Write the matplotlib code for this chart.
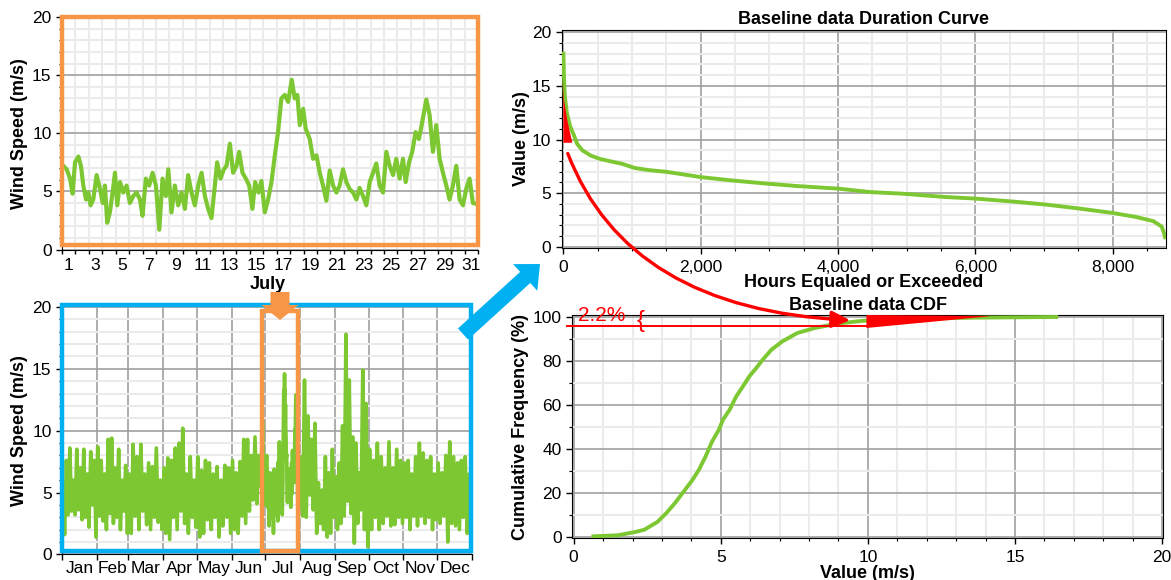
import numpy as np
import matplotlib
matplotlib.use("Agg")
import matplotlib.pyplot as plt
from matplotlib.patches import Rectangle, FancyArrow, FancyArrowPatch
from matplotlib.path import Path
from matplotlib.ticker import MultipleLocator, NullFormatter, StrMethodFormatter

plt.rcParams['font.family'] = ['Liberation Sans', 'DejaVu Sans']

GREEN = '#7DC832'
ORANGE = '#F79646'
BLUE = '#00B0F0'
RED = '#FF0000'
GRID_MAJ = '#A0A0A0'
GRID_MIN = '#EBEBEB'

# July wind speed (day of month, m/s)
july_day = [0.10, 0.35, 0.60, 0.79, 0.97, 1.22, 1.41, 1.59, 1.79, 1.96, 2.13, 2.33, 2.58, 2.83,
            3.03, 3.20, 3.37, 3.57, 3.77, 3.95, 4.12, 4.32, 4.57, 4.81, 5.06, 5.31, 5.56, 5.81,
            6.00, 6.25, 6.50, 6.75, 7.00, 7.25, 7.49, 7.74, 7.92, 8.16, 8.41, 8.66, 8.91, 9.16,
            9.40, 9.65, 9.90, 10.15, 10.40, 10.65, 10.89, 11.14, 11.39, 11.56, 11.81, 12.06,
            12.26, 12.51, 12.75, 13.00, 13.20, 13.45, 13.70, 13.95, 14.19, 14.39, 14.64, 14.86,
            15.11, 15.36, 15.61, 15.86, 16.10, 16.35, 16.60, 16.85, 17.12, 17.34, 17.54, 17.72,
            17.97, 18.16, 18.46, 18.71, 18.96, 19.21, 19.45, 19.70, 19.95, 20.20, 20.45, 20.69,
            20.94, 21.19, 21.44, 21.69, 21.94, 22.18, 22.43, 22.68, 22.93, 23.18, 23.42, 23.67,
            23.92, 24.17, 24.42, 24.67, 24.91, 25.16, 25.41, 25.61, 25.86, 26.10, 26.35, 26.60,
            26.85, 27.15, 27.39, 27.64, 27.89, 28.14, 28.39, 28.64, 28.88, 29.13, 29.38, 29.63,
            29.88, 30.12, 30.37, 30.62, 30.95]
july_ws = [7.2, 6.9, 6.1, 4.8, 7.5, 8.0, 7.2, 5.5, 4.3, 4.9, 3.8, 4.3, 6.4, 5.2,
           4.0, 5.5, 2.3, 3.2, 4.9, 6.6, 3.8, 5.8, 4.9, 5.5, 4.0, 4.6, 4.9, 4.3,
           2.9, 6.1, 5.5, 6.6, 5.5, 1.7, 6.1, 4.6, 6.9, 3.2, 5.5, 3.8, 4.9, 3.5,
           6.4, 4.9, 3.8, 5.5, 6.6, 4.6, 3.5, 2.7, 5.5, 7.5, 6.1, 6.9,
           7.2, 9.1, 6.6, 7.2, 8.4, 6.6, 6.1, 5.5, 3.5, 5.8, 4.9, 5.9,
           3.2, 4.3, 5.8, 8.1, 10.1, 13.0, 13.3, 12.7, 14.6, 13.0, 13.3, 10.7,
           12.1, 10.4, 9.5, 7.8, 8.1, 6.6, 5.5, 4.2, 6.8, 5.5, 4.9, 5.5,
           6.9, 5.8, 5.2, 4.9, 4.3, 5.3, 4.6, 3.8, 5.8, 6.6, 7.4, 5.5,
           4.9, 8.4, 7.2, 6.4, 7.8, 6.1, 7.8, 5.8, 7.5, 8.4, 10.1, 9.5,
           11.0, 12.9, 11.6, 8.4, 10.7, 7.8, 6.6, 5.5, 4.3, 5.5, 7.2, 4.3,
           3.8, 5.2, 6.1, 4.0, 3.9]

# whole-year wind speed, peaks and troughs read month by month (Jul comes from july_ws)
months = ['Jan', 'Feb', 'Mar', 'Apr', 'May', 'Jun', 'Jul', 'Aug', 'Sep', 'Oct', 'Nov', 'Dec']
month_days = [31, 28, 31, 30, 31, 30, 31, 31, 30, 31, 30, 31]
jan_ws = [5.5, 1.6, 7.6, 3.2, 8.6, 3.5, 6.0, 3.2, 8.5, 3.6, 7.0, 2.8, 8.5, 3.0, 6.5, 2.2, 8.3, 4.0, 7.6, 1.4]
feb_ws = [8.7, 3.1, 7.6, 2.7, 6.5, 2.0, 9.3, 3.3, 9.4, 2.5, 7.0, 3.0, 8.5, 2.0, 6.0, 3.5, 7.2, 1.7]
mar_ws = [6.5, 1.7, 8.9, 3.1, 7.9, 2.0, 8.9, 3.5, 6.5, 2.4, 7.4, 2.0, 7.1, 3.0, 8.6, 2.6, 6.0, 2.0]
apr_ws = [7.0, 1.7, 7.8, 1.2, 7.6, 3.0, 8.6, 2.0, 9.0, 3.5, 10.2, 2.5, 6.5, 1.7, 7.9, 3.0, 6.0, 2.2]
may_ws = [7.9, 1.4, 6.8, 1.7, 7.6, 2.8, 7.4, 2.0, 6.5, 3.0, 7.1, 1.4, 6.0, 2.3, 7.2, 3.0, 7.0, 1.7]
jun_ws = [7.6, 2.0, 6.6, 1.7, 7.5, 3.1, 9.3, 2.5, 9.3, 3.5, 8.0, 4.4, 9.5, 4.1, 8.0, 5.5, 10.8, 4.0]
aug_ws = [7.9, 3.1, 14.1, 3.0, 11.2, 4.8, 9.3, 3.6, 10.6, 1.7, 5.8, 2.5, 5.2, 2.0, 7.9, 1.4, 6.6, 1.7, 8.5, 3.0]
sep_ws = [6.3, 2.0, 7.4, 2.5, 10.4, 3.1, 17.8, 4.3, 14.1, 3.3, 9.5, 0.9, 9.0, 2.5, 6.6, 3.6, 14.9, 2.0, 12.2, 0.6]
oct_ws = [8.5, 2.0, 7.6, 3.0, 9.0, 2.0, 7.9, 2.5, 7.0, 3.1, 9.1, 2.3, 7.0, 2.4, 8.5, 3.0, 7.6, 2.5]
nov_ws = [7.4, 3.0, 7.6, 2.0, 6.5, 3.1, 7.9, 2.3, 9.0, 3.1, 8.2, 2.5, 7.6, 3.0, 7.9, 2.0, 6.5, 2.8]
dec_ws = [7.4, 2.5, 6.6, 3.1, 8.0, 1.0, 9.1, 2.5, 7.9, 2.3, 7.4, 2.0, 7.6, 3.0, 7.9, 1.7, 6.5, 2.0]

# duration curve (hours equaled or exceeded, m/s)
dur_hours = [0, 8, 20, 50, 100, 147, 200, 275, 400, 530, 700, 850, 1040, 1250, 1490, 1750, 2000,
             2440, 2950, 3400, 4000, 4480, 4930, 5560, 6000, 6590, 7030, 7480, 8000, 8330, 8590,
             8710, 8740, 8760]
dur_ws = [18.0, 16.0, 14.1, 12.5, 11.2, 10.5, 9.6, 9.0, 8.5, 8.2, 7.95, 7.75, 7.35, 7.15, 7.0, 6.75,
          6.5, 6.2, 5.9, 5.67, 5.43, 5.1, 4.96, 4.65, 4.5, 4.2, 3.94, 3.6, 3.16, 2.8, 2.4, 1.9, 1.4, 0.9]

# cumulative distribution (m/s, %)
cdf_ws = [0.67, 1.5, 2.1, 2.4, 2.84, 3.13, 3.43, 3.73, 4.03, 4.25, 4.48, 4.7, 4.93, 5.07, 5.3,
          5.52, 5.75, 5.97, 6.2, 6.42, 6.72, 7.09, 7.6, 8.2, 8.96, 9.85, 11.3, 13.6, 16.4]
cdf_pct = [0.3, 0.8, 2.3, 3.3, 6.8, 10.6, 15.2, 20.5, 25.8, 30.4, 36.5, 43.3, 48.6, 53.2, 57.8,
           63.8, 68.4, 73.0, 76.7, 80.5, 85.1, 88.9, 92.7, 95.0, 97.0, 98.3, 99.1, 99.7, 100.0]

# red highlights: hours above ~10 m/s and the matching top 2.2 % of the CDF
wedge_dur_h = [0, 0, 130, 57, 9]
wedge_dur_v = [15.6, 9.7, 9.7, 11.8, 13.7]
wedge_cdf_x = [9.95, 9.95, 14.2]
wedge_cdf_y = [100.9, 95.0, 100.4]
share_level = 95.9
share_label = '2.2%'

W, H = 1171, 580
fig = plt.figure(figsize=(W / 100, H / 100), dpi=100)


def box(l, t, r, b):
    return [l / W, 1 - b / H, (r - l) / W, (b - t) / H]


def style(ax, size=12.5):
    ax.set_axisbelow(True)
    ax.tick_params(which='both', direction='out', labelsize=size, color='black')
    ax.tick_params(which='major', length=4, width=1)
    ax.tick_params(which='minor', length=2.5, width=0.8)


def put_title(ax, text, px_above, px_height):
    ax.text(0.5, 1 + px_above / px_height, text, transform=ax.transAxes, ha='center',
            va='center', fontsize=13, fontweight='bold')


# ---- top left: July ----
ax1 = fig.add_axes(box(62, 17, 478, 249.5))
ax1.plot(july_day, july_ws, color=GREEN, lw=3.0, zorder=3)
ax1.set_xlim(0, 31)
ax1.set_ylim(0, 20)
style(ax1)
ax1.xaxis.set_major_locator(MultipleLocator(1))
ax1.xaxis.set_major_formatter(NullFormatter())
ax1.set_xticks(np.arange(0.5, 31, 2), minor=True)
ax1.set_xticklabels([str(d) for d in range(1, 32, 2)], minor=True)
ax1.tick_params(axis='x', which='major', length=3)
ax1.tick_params(axis='x', which='minor', length=0, pad=6)
ax1.yaxis.set_major_locator(MultipleLocator(5))
ax1.yaxis.set_minor_locator(MultipleLocator(1))
ax1.xaxis.grid(True, which='major', color=GRID_MIN, lw=1.5)
ax1.yaxis.grid(True, which='minor', color=GRID_MIN, lw=1.5)
ax1.yaxis.grid(True, which='major', color=GRID_MAJ, lw=1.2)
for s in ['top', 'right']:
    ax1.spines[s].set_visible(False)
ax1.set_ylabel('Wind Speed (m/s)', fontsize=13, fontweight='bold', va='center')
ax1.yaxis.set_label_coords(-0.102, 0.5)
ax1.set_xlabel('July', fontsize=13, fontweight='bold', va='center')
ax1.xaxis.set_label_coords(0.495, -0.15)
ax1.add_patch(Rectangle((0, 0.4), 31, 19.6, fill=False, ec=ORANGE, lw=3.2, clip_on=False, zorder=6))

# ---- bottom left: whole year ----
ax2 = fig.add_axes(box(62, 307, 472, 554.4))
month_start = np.concatenate([[0], np.cumsum(month_days)])
year_day, year_ws = [], []
for i, vals in enumerate([jan_ws, feb_ws, mar_ws, apr_ws, may_ws, jun_ws, None,
                          aug_ws, sep_ws, oct_ws, nov_ws, dec_ws]):
    if vals is None:
        year_day += list(month_start[i] + np.array(july_day))
        year_ws += july_ws
    else:
        n = len(vals)
        year_day += list(month_start[i] + (np.arange(n) + 0.5) * month_days[i] / n)
        year_ws += vals
ax2.plot(year_day, year_ws, color=GREEN, lw=2.6, zorder=3)
ax2.set_xlim(0, 365)
ax2.set_ylim(0, 20)
style(ax2)
ax2.set_xticks(month_start)
ax2.xaxis.set_major_formatter(NullFormatter())
ax2.set_xticks(month_start[:-1] + np.array(month_days) / 2, minor=True)
ax2.set_xticklabels(months, minor=True)
ax2.tick_params(axis='x', which='minor', length=0, pad=5)
ax2.yaxis.set_major_locator(MultipleLocator(5))
ax2.yaxis.set_minor_locator(MultipleLocator(1))
ax2.xaxis.grid(True, which='major', color=GRID_MAJ, lw=1.2)
ax2.yaxis.grid(True, which='minor', color=GRID_MIN, lw=1.5)
ax2.yaxis.grid(True, which='major', color=GRID_MAJ, lw=1.2)
for s in ['top', 'right']:
    ax2.spines[s].set_visible(False)
ax2.set_ylabel('Wind Speed (m/s)', fontsize=13, fontweight='bold', va='center')
ax2.yaxis.set_label_coords(-0.104, 0.5)
ax2.add_patch(Rectangle((0, 0.3), 363.7, 19.85, fill=False, ec=BLUE, lw=3.2, clip_on=False, zorder=6))
ax2.add_patch(Rectangle((178.3, 0.28), 32.1, 19.42, fill=False, ec=ORANGE, lw=3.2, clip_on=False, zorder=7))

# ---- top right: duration curve ----
ax3 = fig.add_axes(box(561.6, 30, 1166, 248))
ax3.plot(dur_hours, dur_ws, color=GREEN, lw=2.8, zorder=3)
ax3.fill(wedge_dur_h, wedge_dur_v, color=RED, lw=0, zorder=5)
ax3.set_xlim(-26, 8774)
ax3.set_ylim(-0.1, 20.2)
style(ax3)
ax3.xaxis.set_major_locator(MultipleLocator(2000))
ax3.xaxis.set_minor_locator(MultipleLocator(500))
ax3.xaxis.set_major_formatter(StrMethodFormatter('{x:,.0f}'))
ax3.yaxis.set_major_locator(MultipleLocator(5))
ax3.yaxis.set_minor_locator(MultipleLocator(1))
ax3.grid(True, which='minor', color=GRID_MIN, lw=1.5)
ax3.grid(True, which='major', color=GRID_MAJ, lw=1.2)
ax3.tick_params(axis='x', pad=5)
put_title(ax3, 'Baseline data Duration Curve', 11, 218)
ax3.set_xlabel('Hours Equaled or Exceeded', fontsize=13, fontweight='bold', va='center')
ax3.xaxis.set_label_coords(0.5, -0.16)
ax3.set_ylabel('Value (m/s)', fontsize=13, fontweight='bold', va='center')
ax3.yaxis.set_label_coords(-0.067, 0.5)

# ---- bottom right: CDF ----
ax4 = fig.add_axes(box(572.2, 315, 1163, 538))
ax4.plot(cdf_ws, cdf_pct, color=GREEN, lw=2.8, zorder=3)
ax4.fill(wedge_cdf_x, wedge_cdf_y, color=RED, lw=0, zorder=5, clip_on=False)
ax4.set_xlim(-0.05, 20.03)
ax4.set_ylim(-0.45, 100.9)
style(ax4)
ax4.xaxis.set_major_locator(MultipleLocator(5))
ax4.xaxis.set_minor_locator(MultipleLocator(1))
ax4.yaxis.set_major_locator(MultipleLocator(20))
ax4.yaxis.set_minor_locator(MultipleLocator(10))
ax4.grid(True, which='minor', color=GRID_MIN, lw=1.5)
ax4.grid(True, which='major', color=GRID_MAJ, lw=1.2)
ax4.tick_params(axis='x', pad=5)
put_title(ax4, 'Baseline data CDF', 10, 223)
ax4.set_xlabel('Value (m/s)', fontsize=13, fontweight='bold', va='center')
ax4.xaxis.set_label_coords(0.5, -0.157)
ax4.set_ylabel('Cumulative Frequency (%)', fontsize=13, fontweight='bold', va='center')
ax4.yaxis.set_label_coords(-0.0867, 0.5)
ax4.plot([-0.22, 10.0], [share_level, share_level], color=RED, lw=1.4, clip_on=False, zorder=6)
ax4.text(0.95, 100.7, share_label, color=RED, fontsize=15, ha='center', va='center', zorder=7)
ax4.text(2.26, 98.0, '{', color=RED, fontsize=17, ha='center', va='center', zorder=7)

# ---- overlay: arrows between panels (figure pixels) ----
ov = fig.add_axes([0, 0, 1, 1], zorder=10)
ov.set_xlim(0, W)
ov.set_ylim(0, H)
ov.axis('off')
ov.patch.set_alpha(0)

p0 = ax3.transData.transform((64, 8.7))
p2 = ax4.transData.transform((9.4, 98.5))
ctrl = (p0[0] + 0.212 * (p2[0] - p0[0]), p0[1] + 0.934 * (p2[1] - p0[1]))
curve = Path([tuple(p0), ctrl, tuple(p2)], [Path.MOVETO, Path.CURVE3, Path.CURVE3])
ov.add_patch(FancyArrowPatch(path=curve, arrowstyle='-|>,head_length=0.55,head_width=0.25',
                             mutation_scale=20, color=RED, lw=2.4))

ov.add_patch(FancyArrow(463, H - 334, 77, 70, width=15, head_width=36, head_length=20,
                        length_includes_head=True, color=BLUE, lw=0))
ov.add_patch(FancyArrow(280, H - 292, 0, -28, width=19, head_width=37, head_length=15,
                        length_includes_head=True, color=ORANGE, lw=0))

fig.savefig('out.png', dpi=100)
